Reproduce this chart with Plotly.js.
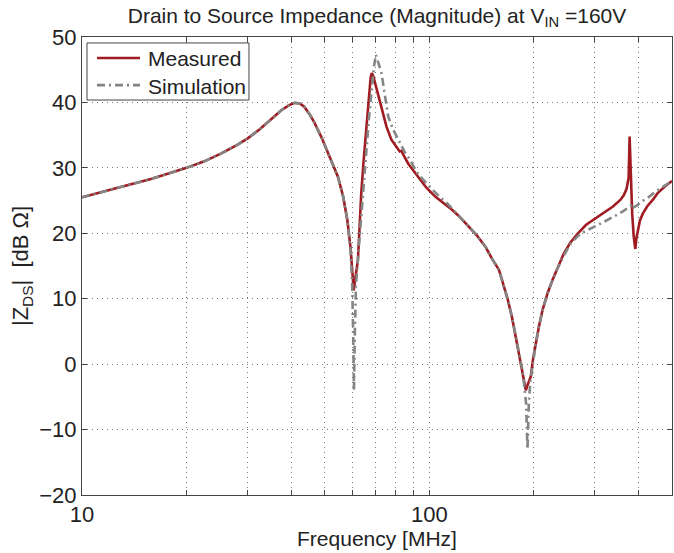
<!DOCTYPE html>
<html>
<head>
<meta charset="utf-8">
<script src="https://cdn.plot.ly/plotly-3.0.1.min.js"></script>
<style>
  html, body { margin: 0; padding: 0; background: #fff; }
  #chart { width: 674px; height: 553px; }
</style>
</head>
<body>
<div id="chart"></div>
<script>
// Measured drain-to-source impedance magnitude (MHz, dB Ohm)
const freqMeasured = [
  10, 11.5, 13, 15.8, 18, 20, 22.5, 25.2, 28, 30, 32.5, 35, 37.5, 39.5, 41, 42.5,
  43.7, 45.2, 46.7, 48.9, 50.5, 52.2, 54.6, 56.5, 58.1, 59.3, 60.0, 60.6, 61.2,
  62.3, 63.0, 63.7, 64.8, 65.9, 67.0, 67.8, 68.3, 69.0, 69.8, 71.0, 72.8, 75.3,
  77.8, 80.4, 82.2, 83.2, 84.0, 87.1, 90.9, 93.1, 98, 104, 110, 116.3, 123, 130,
  137, 145.3, 152, 158.8, 163, 168, 173, 177.4, 181, 185.4, 188, 189.7, 191, 193,
  196, 199, 202.7, 207, 212, 219, 226.5, 235, 244, 255, 268, 283, 301, 320, 338,
  355, 363, 370, 375, 377.5, 380, 384, 388, 392, 395, 400, 404.5, 412, 424, 440,
  454, 476, 500
];
const zMeasured = [
  25.5, 26.3, 27.1, 28.3, 29.2, 30.0, 31.0, 32.2, 33.5, 34.5, 35.9, 37.4, 38.8, 39.6, 39.95, 39.8,
  39.3, 38.2, 36.9, 34.7, 33.0, 31.2, 28.6, 25.6, 22.0, 17.9, 14.5, 11.3, 13.0,
  15.9, 21.0, 26.1, 31.5, 36.3, 40.8, 43.8, 44.5, 44.0, 43.0, 41.5, 39.3, 36.3,
  34.3, 33.2, 32.5, 32.6, 32.1, 30.6, 29.3, 28.4, 27.0, 25.6, 24.6, 23.6, 22.4, 21.0,
  19.7, 17.9, 16.0, 14.4, 12.5, 10.0, 7.2, 4.2, 2.0, -0.9, -3.0, -4.0, -3.5, -2.8,
  -1.9, 0.8, 3.2, 5.8, 8.3, 10.8, 12.9, 14.8, 16.9, 18.6, 20.0, 21.3, 22.3, 23.2, 24.1,
  25.1, 25.8, 26.8, 28.5, 34.8, 29.0, 23.0, 19.5, 17.6, 19.3, 21.0, 22.0, 23.0, 24.1, 25.1,
  26.1, 27.1, 28.0
];

// Simulated drain-to-source impedance magnitude (MHz, dB Ohm)
const freqSim = [
  10, 11.5, 13, 15.8, 18, 20, 22.5, 25.2, 28, 30, 32.5, 35, 37.5, 39.5, 41, 42.5,
  43.7, 45.2, 46.7, 48.9, 50.5, 52.2, 54.6, 56.5, 58.1, 59.3, 60.0, 60.4, 60.7,
  61.0, 61.5, 62.3, 63.3, 64.5, 65.8, 67.0, 68.3, 69.3, 70.2, 71.2, 72.9, 74.6,
  76.2, 78.8, 81.5, 85, 87.1, 93, 100, 106.5, 113, 119, 123, 130, 137, 145.3, 152,
  158.8, 163, 168, 173, 177.4, 181, 185.4, 188, 190, 191.8, 193.5, 195.5, 199,
  202.7, 207, 212, 219, 226.5, 235, 244, 255, 268, 281, 300, 320, 338, 360, 380,
  386, 388, 395, 410, 430, 446, 470, 500
];
const zSim = [
  25.5, 26.3, 27.1, 28.3, 29.2, 30.0, 31.0, 32.2, 33.5, 34.5, 35.9, 37.4, 38.8, 39.6, 39.95, 39.8,
  39.3, 38.2, 36.9, 34.7, 33.0, 31.2, 28.6, 25.6, 22.0, 17.5, 12.0, 4.0, -4.0,
  4.0, 12.0, 16.0, 21.0, 27.0, 32.5, 37.5, 42.0, 45.5, 47.3, 46.2, 44.4, 40.9,
  37.8, 35.8, 34.3, 32.4, 31.6, 29.0, 27.2, 25.7, 24.5, 23.3, 22.4, 21.0, 19.7, 17.9, 16.0,
  14.4, 12.5, 10.0, 7.2, 4.2, 2.0, -0.9, -3.5, -6.0, -13.0, -6.0, -2.5, 0.6,
  3.2, 5.8, 8.3, 10.8, 12.9, 14.8, 16.6, 18.4, 19.6, 20.3, 21.0, 21.8, 22.5, 23.3, 24.2,
  24.5, 24.0, 24.2, 24.9, 25.6, 26.3, 27.1, 28.0
];

// Log-axis tick positions: labels only on the decades
const xTickVals = [10, 20, 30, 40, 50, 60, 70, 80, 90, 100, 200, 300, 400, 500];
const xTickText = ['10', '', '', '', '', '', '', '', '', '100', '', '', '', ''];
const yTickVals = [-20, -10, 0, 10, 20, 30, 40, 50];

const seriesNames = ['Measured', 'Simulation'];

const FONT = 'Liberation Sans, Arial, Helvetica, sans-serif';
const TEXT_COLOR = '#222';
const FRAME_COLOR = '#444';
const MEAS_COLOR = '#a01c22';
const SIM_COLOR = '#858585';
const SIM_DASH = '8px,4px,2px,4px';
const gridDash = '1px,4px';

const traces = [
  {
    x: freqMeasured, y: zMeasured, name: seriesNames[0],
    type: 'scatter', mode: 'lines',
    line: { color: MEAS_COLOR, width: 2.6 }
  },
  {
    x: freqSim, y: zSim, name: seriesNames[1],
    type: 'scatter', mode: 'lines',
    line: { color: SIM_COLOR, width: 2.6, dash: SIM_DASH }
  }
];

const axisCommon = {
  showline: true, linecolor: FRAME_COLOR, linewidth: 1, mirror: 'ticks',
  ticks: 'inside', ticklen: 5, tickcolor: FRAME_COLOR, tickwidth: 1,
  showgrid: true, gridcolor: '#7a7a7a', gridwidth: 1, griddash: gridDash,
  zeroline: false,
  tickfont: { family: FONT, size: 22, color: TEXT_COLOR }
};

// Boxed legend in the upper-left corner of the axes (paper units)
const legendBox = { x0: 0.0085, x1: 0.283, y0: 0.8624, y1: 0.987 };
const legendRows = [0.954, 0.895];
const legendStyles = [
  { color: MEAS_COLOR, width: 2.6, dash: 'solid' },
  { color: SIM_COLOR, width: 2.6, dash: SIM_DASH }
];

const shapes = [{
  type: 'rect', xref: 'paper', yref: 'paper',
  x0: legendBox.x0, x1: legendBox.x1, y0: legendBox.y0, y1: legendBox.y1,
  line: { color: FRAME_COLOR, width: 1 }, fillcolor: '#fff', layer: 'above'
}];
const annotations = [];
legendRows.forEach((yRow, i) => {
  shapes.push({
    type: 'line', xref: 'paper', yref: 'paper',
    x0: 0.0254, x1: 0.0983, y0: yRow, y1: yRow,
    line: legendStyles[i], layer: 'above'
  });
  annotations.push({
    xref: 'paper', yref: 'paper', x: 0.1085, y: yRow - 0.002,
    xanchor: 'left', yanchor: 'middle', showarrow: false,
    text: seriesNames[i],
    font: { family: FONT, size: 21, color: TEXT_COLOR }
  });
});

const layout = {
  width: 674, height: 553,
  margin: { l: 82, r: 2, t: 37, b: 58 },
  paper_bgcolor: '#fff', plot_bgcolor: '#fff',
  font: { family: FONT, color: TEXT_COLOR },
  showlegend: false,
  title: {
    text: 'Drain to Source Impedance (Magnitude) at V<sub>IN</sub> =160V',
    font: { family: FONT, size: 21, color: TEXT_COLOR },
    xref: 'paper', x: 0.5, xanchor: 'center',
    yref: 'container', y: 0.972, yanchor: 'middle'
  },
  xaxis: Object.assign({}, axisCommon, {
    type: 'log', range: [1, Math.log10(500)],
    tickmode: 'array', tickvals: xTickVals, ticktext: xTickText,
    title: { text: 'Frequency [MHz]', font: { family: FONT, size: 21, color: TEXT_COLOR }, standoff: 2 }
  }),
  yaxis: Object.assign({}, axisCommon, {
    range: [-20, 50],
    tickmode: 'array', tickvals: yTickVals,
    title: { text: '|Z<sub>DS</sub>|  [dB Ω]', font: { family: FONT, size: 22, color: TEXT_COLOR }, standoff: 4 }
  }),
  shapes: shapes,
  annotations: annotations
};

Plotly.newPlot('chart', traces, layout, { displayModeBar: false, staticPlot: true });
</script>
</body>
</html>
